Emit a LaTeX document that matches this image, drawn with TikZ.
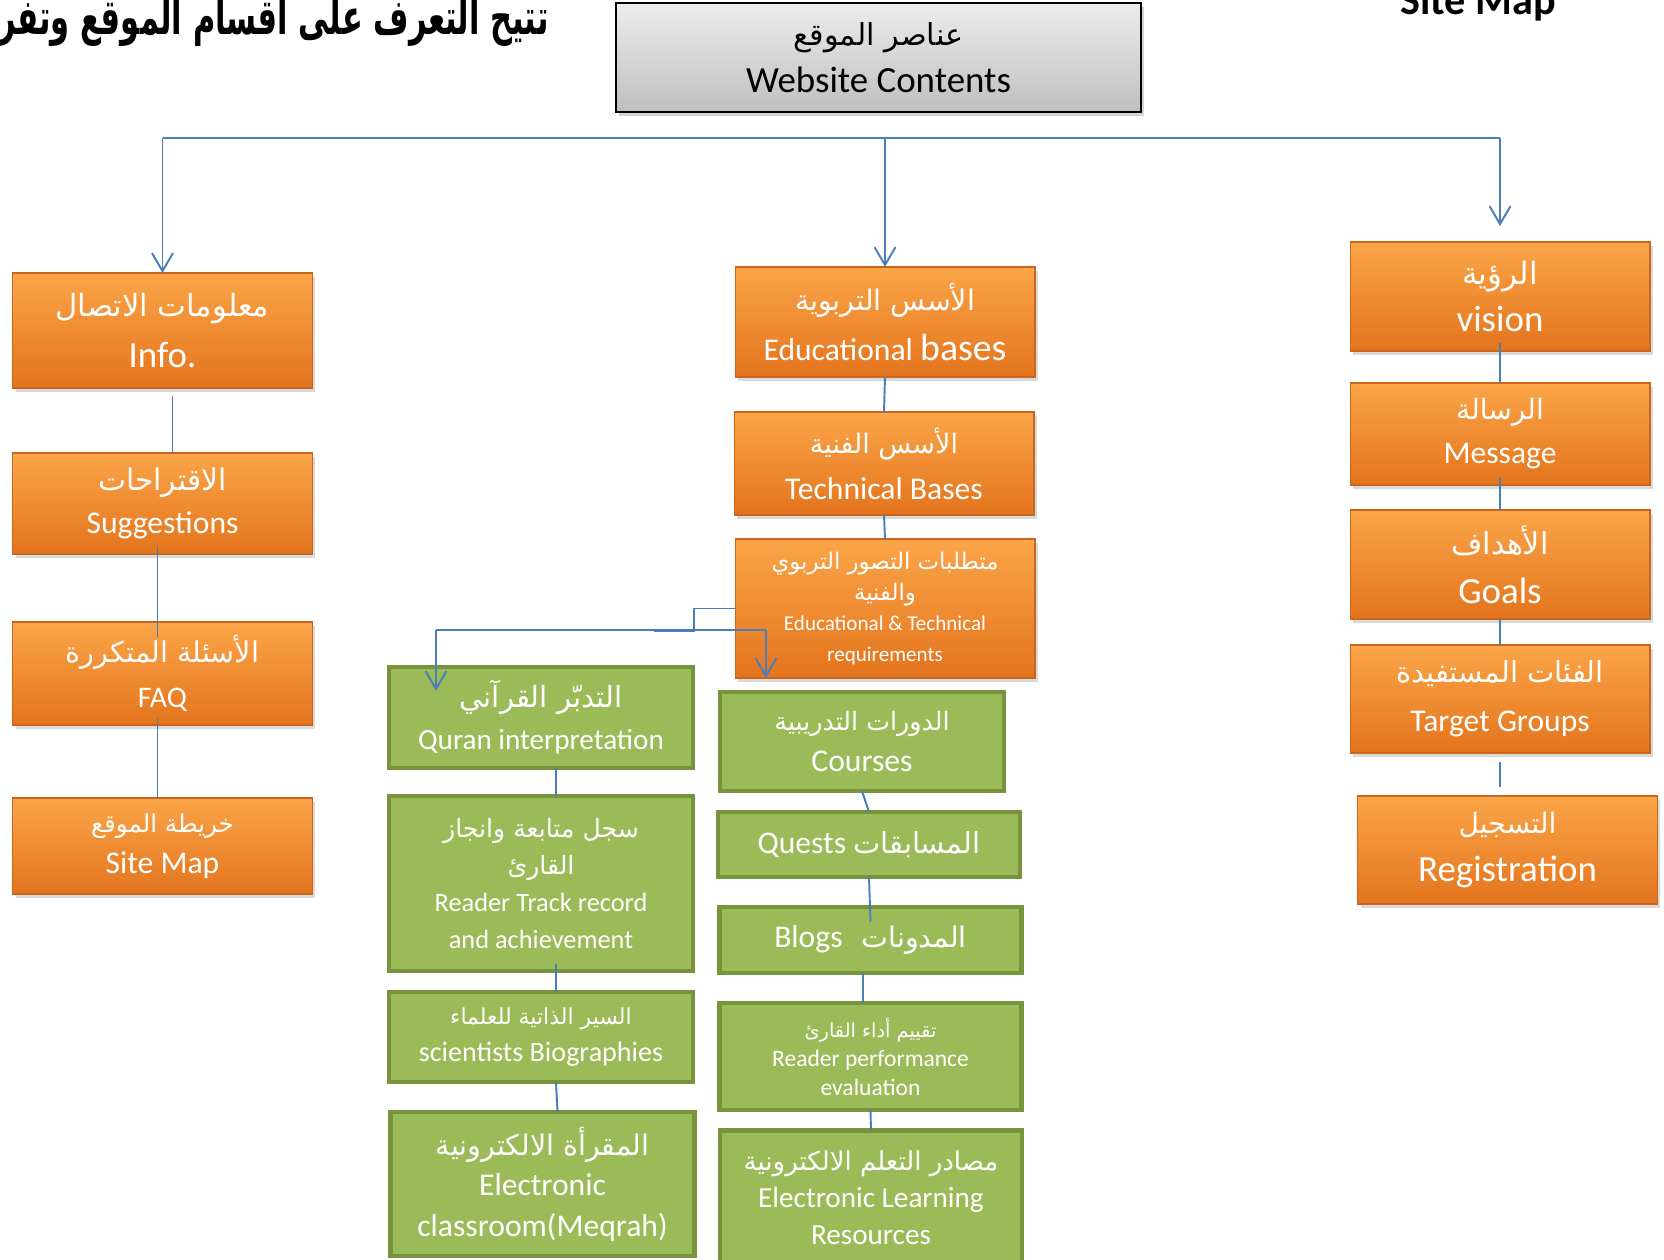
\documentclass[tikz,border=0pt]{standalone}
\usepackage{fontspec}
\usepackage{graphicx}
\setmainfont{Carlito}
\newfontfamily\arabicfont[Script=Arabic]{DejaVu Sans}
\TeXXeTstate=1
\usetikzlibrary{arrows.meta,shadows}
% arabic font at its own size
\newcommand{\arsz}[1]{\fontsize{#1}{#1}\selectfont\arabicfont}
\newcommand{\fsz}[2]{\fontsize{#1}{#2}\selectfont}
\definecolor{linkblue}{HTML}{4A7EBB}
\definecolor{orTop}{HTML}{FBA548}
\definecolor{orBot}{HTML}{E3741D}
\definecolor{orEdge}{HTML}{C9651C}
\definecolor{grFill}{HTML}{9BBB59}
\definecolor{grEdge}{HTML}{77933C}

\begin{document}
\begin{tikzpicture}[>={Straight Barb[length=3.6mm,width=4.2mm]}]
  % one unit = one pixel of the page
  \def\px{0.02}
  \tikzset{
    box/.style  = {inner sep=0pt, outer sep=0pt, align=center, text=white},
    tbox/.style = {box, text=black, top color=gray!15, bottom color=gray!50, draw=black, line width=1.2pt,
                   drop shadow={opacity=0.35, shadow xshift=0.06cm, shadow yshift=-0.08cm}},
    obox/.style = {box, top color=orTop, bottom color=orBot, draw=orEdge, line width=0.6pt, minimum width=6cm,
                   drop shadow={opacity=0.3, shadow xshift=0.06cm, shadow yshift=-0.08cm}},
    gbox/.style = {box, fill=grFill, draw=grEdge, line width=2.4pt, minimum width=6.04cm},
    link/.style = {draw=linkblue, line width=1.1pt},
    arr/.style  = {link, ->}
  }

  \begin{scope}[x=\px cm,y=-\px cm]
    \useasboundingbox (0,0) rectangle (1664,1260);

    % ========= headings =========
    \node[anchor=base east, inner sep=0pt] (hdr) at (549,35)
      {\scalebox{0.62}[1]{\bfseries\arsz{28}\beginR تتيح التعرف على أقسام الموقع وتفر\endR}};
    \node[anchor=base, font=\bfseries\fsz{24}{24}] (smtitle) at (1478,15) {Site Map};
    \node[tbox, minimum width=10.5cm, minimum height=2.18cm, font=\fsz{21}{27}] (top) at (878.5,57.5)
      {{\arsz{17.2}\beginR عناصر الموقع\endR}\\Website Contents};

    % ========= left column =========
    \node[obox, minimum height=2.3cm, font=\fsz{21}{29}] (info) at (162.5,330.5)
      {{\arsz{17.4}\beginR معلومات الاتصال\endR}\\Info.};
    \node[obox, minimum height=2.02cm, font=\fsz{18}{24.5}] (sugg) at (162.5,503.5)
      {{\arsz{16.9}\beginR الاقتراحات\endR}\\Suggestions};
    \node[obox, minimum height=2.06cm, font=\fsz{17}{25.5}] (faq) at (162.5,673.5)
      {{\arsz{16.3}\beginR الأسئلة المتكررة\endR}\\FAQ};
    \node[obox, minimum height=1.92cm, font=\fsz{18}{23}] (smap) at (162.5,846)
      {{\arsz{14}\beginR خريطة الموقع\endR}\\Site Map};

    % ========= middle column =========
    \node[obox, minimum height=2.2cm, font=\fsz{18}{28}] (edu) at (885,322)
      {{\arsz{16.2}\beginR الأسس التربوية\endR}\\Educational {\fsz{21.5}{28}bases}};
    \node[obox, minimum height=2.06cm, font=\fsz{18}{26}] (tech) at (884,463.5)
      {{\arsz{15.3}\beginR الأسس الفنية\endR}\\Technical Bases};
    \node[obox, minimum height=2.78cm, font=\fsz{12}{17.5}] (req) at (885,608.5)
      {{\arsz{13}\beginR متطلبات التصور التربوي\endR}\\{\arsz{13}\beginR والفنية\endR}\\Educational \& Technical\\requirements};

    % ========= right column =========
    \node[obox, minimum height=2.18cm, font=\fsz{21}{27}] (vision) at (1500,296.5)
      {{\arsz{17.6}\beginR الرؤية\endR}\\vision};
    \node[obox, minimum height=2.04cm, font=\fsz{18}{25}] (msg) at (1500,434)
      {{\arsz{16}\beginR الرسالة\endR}\\Message};
    \node[obox, minimum height=2.18cm, font=\fsz{21}{28}] (goals) at (1500,564.5)
      {{\arsz{17.2}\beginR الأهداف\endR}\\Goals};
    \node[obox, minimum height=2.16cm, font=\fsz{18}{28}] (target) at (1500,699)
      {{\arsz{16.5}\beginR الفئات المستفيدة\endR}\\Target Groups};
    \node[obox, minimum height=2.16cm, font=\fsz{21}{27}] (reg) at (1507.5,850)
      {{\arsz{16}\beginR التسجيل\endR}\\Registration};

    % ========= green boxes, left =========
    \node[gbox, minimum width=6.08cm, minimum height=2.02cm, font=\fsz{16.6}{24}] (quran) at (541,717.5)
      {{\arsz{16.6}\beginR التدبّر القرآني\endR}\\Quran interpretation};
    \node[gbox, minimum width=6.08cm, minimum height=3.5cm, font=\fsz{15}{21}] (track) at (541,883.5)
      {{\arsz{14.3}\beginR سجل متابعة وانجاز\endR}\\{\arsz{14.3}\beginR القارئ\endR}\\Reader Track record\\and achievement};
    \node[gbox, minimum width=6.08cm, minimum height=1.8cm, font=\fsz{16}{21}] (bio) at (541,1037)
      {{\arsz{12.5}\beginR السير الذاتية للعلماء\endR}\\scientists Biographies};
    \node[gbox, minimum width=6.08cm, minimum height=2.88cm, font=\fsz{18}{23}] (meqrah) at (542.5,1184)
      {{\arsz{16.2}\beginR المقرأة الالكترونية\endR}\\Electronic\\classroom(Meqrah)};

    % ========= green boxes, right =========
    \node[gbox, minimum width=5.68cm, minimum height=1.98cm, font=\fsz{18}{23}] (courses) at (862,741.5)
      {{\arsz{14.4}\beginR الدورات التدريبية\endR}\\Courses};
    \node[gbox, minimum height=1.3cm, font=\fsz{18}{23}] (quests) at (869,844.5)
      {Quests {\arsz{16.5}\beginR المسابقات\endR}};
    \node[gbox, minimum height=1.32cm, font=\fsz{18}{23}] (blogs) at (870.5,940)
      {Blogs\hspace{0.6em}{\arsz{16.2}\beginR المدونات\endR}};
    \node[gbox, minimum height=2.14cm, font=\fsz{13.4}{16.5}] (perf) at (870.5,1056.5)
      {{\arsz{11}\beginR تقييم أداء القارئ\endR}\\Reader performance\\evaluation};
    \node[gbox, minimum height=2.7cm, font=\fsz{16.6}{21}] (elr) at (871,1198)
      {{\arsz{14.8}\beginR مصادر التعلم الالكترونية\endR}\\Electronic Learning\\Resources};

    % ========= connectors =========
    % top bus and the three drops
    \coordinate (bus) at (886,138);
    \draw[link] (info.north |- bus) -- (vision.north |- bus);
    \draw[arr] (info.north |- bus) -- (info.north);
    \draw[arr] (edu.north |- bus) -- (edu.north);
    \draw[arr] (vision.north |- bus) -- ([yshift=0.32cm]vision.north);

    % left column
    \draw[link] ([xshift=0.2cm,yshift=-0.16cm]info.south) -- ([xshift=0.2cm]sugg.north);
    \draw[link] ([xshift=-0.1cm,yshift=0.16cm]sugg.south) -- ([xshift=-0.1cm,yshift=-0.3cm]faq.north);
    \draw[link] ([xshift=-0.1cm,yshift=0.14cm]faq.south) -- ([xshift=-0.1cm]smap.north);

    % middle column
    \draw[link] (edu.south) -- (tech.north);
    \draw[link] (tech.south) -- (req.north);

    % right column
    \draw[link] ([yshift=0.16cm]vision.south) -- (msg.north);
    \draw[link] ([yshift=0.14cm]msg.south) -- (goals.north);
    \draw[link] (goals.south) -- (target.north);
    \draw[link] ([yshift=-0.18cm]target.south) -- ([yshift=0.18cm]target.south |- reg.north);

    % branch to the green boxes
    \coordinate (brL) at (436,630);
    \coordinate (brR) at (766,630);
    \draw[link] (req.west) -- ++(-41,0) -- ++(0,23) -- ++(-40,0);
    \draw[link] (brL) -- (brR);
    \draw[arr] (brL) -- ([yshift=-0.48cm]brL |- quran.north);
    \draw[arr] (brR) -- (brR |- req.south);

    % green, left
    \draw[link] ([xshift=0.3cm]quran.south) -- ([xshift=0.3cm]track.north);
    \draw[link] ([xshift=0.3cm,yshift=0.14cm]track.south) -- ([xshift=0.3cm]bio.north);
    \draw[link] ([xshift=0.3cm]bio.south) -- ([xshift=0.3cm]meqrah.north);

    % green, right
    \draw[link] (courses.south) -- (quests.north);
    \draw[link] (quests.south) -- ([yshift=-0.3cm]blogs.north);
    \draw[link] ([xshift=-0.15cm]blogs.south) -- ([xshift=-0.15cm]perf.north);
    \draw[link] (perf.south) -- (elr.north);
  \end{scope}
\end{tikzpicture}
\end{document}
